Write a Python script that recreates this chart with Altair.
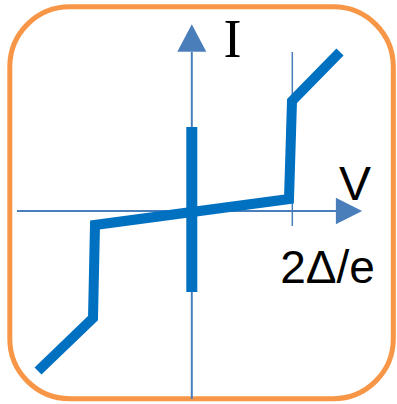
import altair as alt
import pandas as pd

# I-V characteristic of a superconducting tunnel junction (units: V in 2Δ/e)
curve_v = [-1.538, -0.988, -0.968, 0.972, 1.002, 1.482]
curve_i = [-1.60, -1.07, -0.14, 0.12, 1.10, 1.59]

# supercurrent branch at V = 0
super_i = [-0.81, 0.84]

# gap voltage marker
gap_v = 1.005
gap_i = [-0.15, 1.59]

# axes
h_axis_v = [-1.748, 1.442]
v_axis_i = [-1.88, 1.59]

labels = ["I", "V", "2Δ/e"]
label_v = [0.407, 1.632, 1.357]
label_i = [1.54, 0.11, -0.723]
label_font = ["Liberation Serif", "Liberation Sans", "Liberation Sans"]
label_size = [54, 48, 46]

X_DOM = [-1.918, 2.052]
Y_DOM = [-1.93, 2.11]

CURVE = "#0070C0"
AXIS = "#4A7EBB"
FRAME = "#F79646"

xs = alt.Scale(domain=X_DOM, nice=False, zero=False)
ys = alt.Scale(domain=Y_DOM, nice=False, zero=False)


def X(field="v"):
    return alt.X(f"{field}:Q", scale=xs, axis=None)


def Y(field="i"):
    return alt.Y(f"{field}:Q", scale=ys, axis=None)


frame_df = pd.DataFrame({"v": [-1.82], "v2": [2.015], "i": [2.042], "i2": [-1.877]})
frame = alt.Chart(frame_df).mark_rect(
    fill=None, stroke=FRAME, strokeWidth=5, cornerRadius=60
).encode(x=X("v"), x2="v2:Q", y=Y("i"), y2="i2:Q")

h_axis = alt.Chart(pd.DataFrame({"v": h_axis_v, "i": [0.0, 0.0]})).mark_line(
    color=AXIS, strokeWidth=2
).encode(x=X(), y=Y())

v_axis = alt.Chart(pd.DataFrame({"v": [0.0, 0.0], "i": v_axis_i})).mark_line(
    color=AXIS, strokeWidth=2
).encode(x=X(), y=Y(), order="i:Q")

gap_line = alt.Chart(pd.DataFrame({"v": [gap_v, gap_v], "i": gap_i})).mark_line(
    color=AXIS, strokeWidth=1.5
).encode(x=X(), y=Y(), order="i:Q")

up_head = alt.Chart(pd.DataFrame({"v": [0.0], "i": [1.73]})).mark_point(
    shape="M0,-0.95L-1,0.95L1,0.95Z", filled=True, opacity=1,
    color=AXIS, size=841, strokeWidth=0
).encode(x=X(), y=Y())

right_head = alt.Chart(pd.DataFrame({"v": [1.572], "i": [0.0]})).mark_point(
    shape="M1,0L-1,-1L-1,1Z", filled=True, opacity=1,
    color=AXIS, size=690, strokeWidth=0
).encode(x=X(), y=Y())

supercurrent = alt.Chart(pd.DataFrame({"v": [0.0, 0.0], "i": super_i})).mark_line(
    color=CURVE, strokeWidth=11, strokeCap="butt"
).encode(x=X(), y=Y(), order="i:Q")

iv = alt.Chart(pd.DataFrame({"v": curve_v, "i": curve_i, "k": range(len(curve_v))})).mark_line(
    color=CURVE, strokeWidth=10, strokeCap="butt", strokeJoin="miter"
).encode(x=X(), y=Y(), order="k:Q")

text_layers = []
for t, lv, li, f, s in zip(labels, label_v, label_i, label_font, label_size):
    text_layers.append(
        alt.Chart(pd.DataFrame({"v": [lv], "i": [li], "t": [t]})).mark_text(
            font=f, fontSize=s, color="black", align="center", baseline="alphabetic"
        ).encode(x=X(), y=Y(), text="t:N")
    )

chart = alt.layer(
    frame, h_axis, v_axis, gap_line, up_head, right_head, supercurrent, iv, *text_layers
).properties(
    width=397, height=404, padding=0, autosize=alt.AutoSizeParams(type="none")
).configure_view(stroke=None)

chart.save("out.html", embed_options={"renderer": "svg", "actions": False})
